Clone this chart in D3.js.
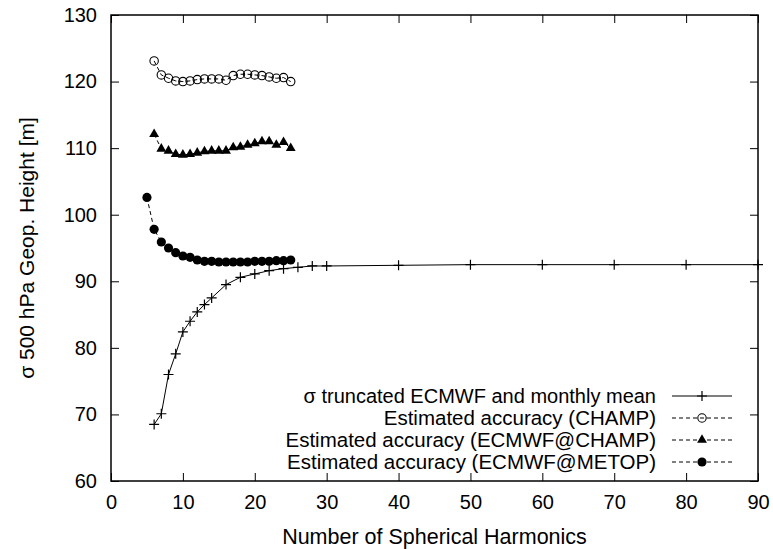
<!DOCTYPE html>
<html>
<head>
<meta charset="utf-8">
<script src="https://cdn.jsdelivr.net/npm/d3@7"></script>
<style>
  body { margin: 0; background: #fff; }
  text { font-family: "Liberation Sans", Arial, sans-serif; fill: #000; }
</style>
</head>
<body>
<div id="chart"></div>
<script>
// values
const truncX = [6, 7, 8, 9, 10, 11, 12, 13, 14, 16, 18, 20, 22, 24, 26, 28, 30, 40, 50, 60, 70, 80, 90];
const truncY = [68.5, 70.1, 76.0, 79.1, 82.4, 84.0, 85.4, 86.5, 87.5, 89.5, 90.6, 91.1, 91.6, 91.9, 92.1, 92.3, 92.3, 92.4, 92.5, 92.5, 92.5, 92.5, 92.5];

const champX = [6, 7, 8, 9, 10, 11, 12, 13, 14, 15, 16, 17, 18, 19, 20, 21, 22, 23, 24, 25];
const champY = [123.1, 121.0, 120.5, 120.1, 120.0, 120.1, 120.3, 120.4, 120.4, 120.4, 120.2, 120.9, 121.1, 121.1, 121.0, 120.9, 120.7, 120.5, 120.6, 120.0];
const ecChampY = [112.1, 109.9, 109.6, 109.1, 109.0, 109.1, 109.3, 109.5, 109.6, 109.6, 109.6, 110.1, 110.2, 110.5, 110.7, 111.0, 111.0, 110.5, 110.9, 110.0];

const metopX = [5, 6, 7, 8, 9, 10, 11, 12, 13, 14, 15, 16, 17, 18, 19, 20, 21, 22, 23, 24, 25];
const metopY = [102.6, 97.8, 95.9, 95.0, 94.3, 93.8, 93.6, 93.2, 93.0, 93.0, 92.9, 92.9, 92.9, 92.9, 92.9, 93.0, 93.0, 93.0, 93.1, 93.1, 93.2];

const xTicks = [0, 10, 20, 30, 40, 50, 60, 70, 80, 90];
const yTicks = [60, 70, 80, 90, 100, 110, 120, 130];

const legendLabels = [
    "σ truncated ECMWF and monthly mean",
    "Estimated accuracy (CHAMP)",
    "Estimated accuracy (ECMWF@CHAMP)",
    "Estimated accuracy (ECMWF@METOP)"
];

const W = 773, H = 549;
const margin = { top: 15, right: 15, bottom: 68, left: 111 },
    width = W - margin.left - margin.right,
    height = H - margin.top - margin.bottom;

var svg = d3.select("#chart")
    .append("svg")
    .attr("width", W)
    .attr("height", H);

var xScale = d3.scaleLinear().domain([0, 90]).range([0, width]),
    yScale = d3.scaleLinear().domain([60, 130]).range([height, 0]);

var g = svg.append("g")
    .attr("transform", "translate(" + margin.left + "," + margin.top + ")");

const tickLen = 8;
const fontSize = "20px";

// axes: labels outside, ticks inward, mirrored on top/right
g.append("g")
    .attr("transform", "translate(0," + height + ")")
    .call(d3.axisBottom(xScale).tickValues(xTicks).tickSizeInner(-tickLen).tickSizeOuter(0).tickPadding(14))
    .call(a => a.select(".domain").remove())
    .selectAll("text").attr("font-size", fontSize).attr("font-family", "Liberation Sans, Arial, sans-serif");

g.append("g")
    .call(d3.axisTop(xScale).tickValues(xTicks).tickSizeInner(-tickLen).tickSizeOuter(0).tickFormat(""))
    .call(a => a.select(".domain").remove());

g.append("g")
    .call(d3.axisLeft(yScale).tickValues(yTicks).tickSizeInner(-tickLen).tickSizeOuter(0).tickPadding(14))
    .call(a => a.select(".domain").remove())
    .selectAll("text").attr("font-size", fontSize).attr("font-family", "Liberation Sans, Arial, sans-serif");

g.append("g")
    .attr("transform", "translate(" + width + ",0)")
    .call(d3.axisRight(yScale).tickValues(yTicks).tickSizeInner(-tickLen).tickSizeOuter(0).tickFormat(""))
    .call(a => a.select(".domain").remove());

g.selectAll(".tick line").attr("stroke", "#000").attr("stroke-width", 1);

g.append("rect")
    .attr("width", width)
    .attr("height", height)
    .attr("fill", "none")
    .attr("stroke", "#000")
    .attr("stroke-width", 1.5);

// axis titles
svg.append("text")
    .attr("x", margin.left + width / 2)
    .attr("y", 544)
    .attr("text-anchor", "middle")
    .attr("font-size", "21.5px")
    .text("Number of Spherical Harmonics");

svg.append("text")
    .attr("transform", "translate(34," + (margin.top + height / 2) + ") rotate(-90)")
    .attr("text-anchor", "middle")
    .attr("font-size", "21px")
    .text("σ 500 hPa Geop. Height [m]");

const line = d3.line().x(d => xScale(d[0])).y(d => yScale(d[1]));
const zip = (xs, ys) => xs.map((x, i) => [x, ys[i]]);

const series = [
    { pts: zip(truncX, truncY), dash: null, marker: "plus" },
    { pts: zip(champX, champY), dash: "4,3", marker: "circle" },
    { pts: zip(champX, ecChampY), dash: "4,3", marker: "triangle" },
    { pts: zip(metopX, metopY), dash: "4,3", marker: "dot" }
];

function drawMarker(sel, type) {
    if (type === "plus") {
        sel.append("path")
            .attr("d", "M-5,0H5M0,-5V5")
            .attr("stroke", "#000").attr("stroke-width", 1.2).attr("fill", "none");
    } else if (type === "circle") {
        sel.append("circle").attr("r", 4.2)
            .attr("fill", "none").attr("stroke", "#000").attr("stroke-width", 1.1);
    } else if (type === "triangle") {
        sel.append("path")
            .attr("d", d3.symbol(d3.symbolTriangle, 42)())
            .attr("fill", "#000");
    } else {
        sel.append("circle").attr("r", 4.6).attr("fill", "#000");
    }
}

series.forEach(s => {
    g.append("path")
        .datum(s.pts)
        .attr("d", line)
        .attr("fill", "none")
        .attr("stroke", "#000")
        .attr("stroke-width", 1)
        .attr("stroke-dasharray", s.dash);
    g.selectAll(null)
        .data(s.pts)
        .enter().append("g")
        .attr("transform", d => "translate(" + xScale(d[0]) + "," + yScale(d[1]) + ")")
        .each(function () { drawMarker(d3.select(this), s.marker); });
});

// legend
const legX = 656, legY0 = 396, legStep = 22;
const legSizes = ["20px", "20.5px", "20.5px", "20.5px"];
series.forEach((s, i) => {
    const y = legY0 + i * legStep;
    svg.append("text")
        .attr("x", legX)
        .attr("y", y)
        .attr("dy", "0.35em")
        .attr("text-anchor", "end")
        .attr("font-size", legSizes[i])
        .text(legendLabels[i]);
    svg.append("line")
        .attr("x1", 672).attr("x2", 732)
        .attr("y1", y).attr("y2", y)
        .attr("stroke", "#000").attr("stroke-width", 1)
        .attr("stroke-dasharray", s.dash);
    drawMarker(svg.append("g").attr("transform", "translate(702," + y + ")"), s.marker);
});
</script>
</body>
</html>
